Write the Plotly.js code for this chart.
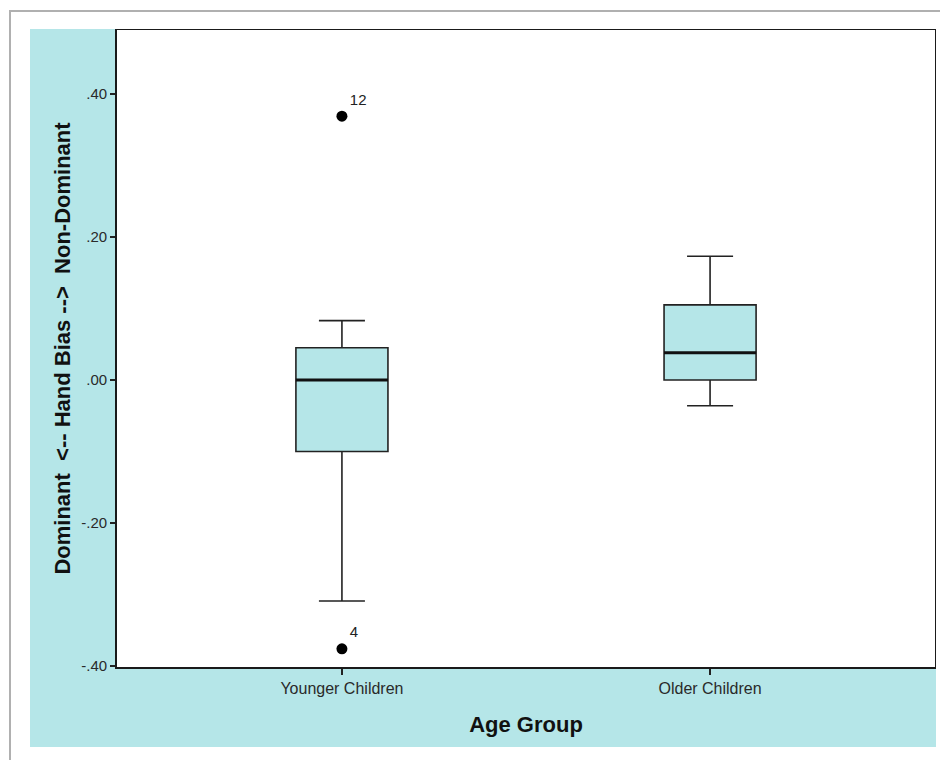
<!DOCTYPE html>
<html>
<head>
<meta charset="utf-8">
<script src="https://cdn.plot.ly/plotly-3.0.1.min.js"></script>
<style>
  html, body { margin: 0; padding: 0; background: #ffffff; width: 940px; height: 760px; overflow: hidden; }
  #frame { position: absolute; left: 9px; top: 10px; width: 940px; height: 760px;
           border-left: 2px solid #b0b0b0; border-top: 2px solid #b0b0b0; box-sizing: border-box; }
  #chart { position: absolute; left: 30px; top: 29px; width: 906px; height: 718px; }
</style>
</head>
<body>
<div id="frame"></div>
<div id="chart"></div>
<script>
// Data
var categories = ['Younger Children', 'Older Children'];
var q1 = [-0.100, 0.000];
var median = [0.000, 0.038];
var q3 = [0.045, 0.105];
var lowerWhisker = [-0.309, -0.036];
var upperWhisker = [0.083, 0.173];

var outlierGroup = ['Younger Children', 'Younger Children'];
var outlierValues = [0.369, -0.376];
var outlierCases = ['12', '4'];

var yTickVals = [-0.4, -0.2, 0.0, 0.2, 0.4];
var yTickText = ['-.40', '-.20', '.00', '.20', '.40'];

var teal = '#b5e6e8';
var ink = '#222222';

var boxTrace = {
  type: 'box',
  x: categories,
  q1: q1,
  median: median,
  q3: q3,
  lowerfence: lowerWhisker,
  upperfence: upperWhisker,
  boxpoints: false,
  width: 0.25,
  whiskerwidth: 0.5,
  fillcolor: teal,
  line: { color: ink, width: 1.6 },
  hoverinfo: 'skip',
  showlegend: false
};

// thick median line drawn as a degenerate box at the median values
var medianTrace = {
  type: 'box',
  x: categories,
  q1: median,
  median: median,
  q3: median,
  lowerfence: median,
  upperfence: median,
  boxpoints: false,
  width: 0.25,
  whiskerwidth: 0,
  fillcolor: 'rgba(0,0,0,0)',
  line: { color: '#111111', width: 3 },
  hoverinfo: 'skip',
  showlegend: false
};

var outlierTrace = {
  type: 'scatter',
  mode: 'markers+text',
  x: outlierGroup,
  y: outlierValues,
  text: outlierCases,
  textposition: 'top right',
  textfont: { family: 'Liberation Sans, Arial, sans-serif', size: 15, color: '#222222' },
  marker: { color: '#000000', size: 11 },
  hoverinfo: 'skip',
  showlegend: false
};

var layout = {
  width: 906,
  height: 718,
  margin: { l: 87, r: 1, t: 1, b: 80, pad: 0 },
  paper_bgcolor: teal,
  plot_bgcolor: '#ffffff',
  font: { family: 'Liberation Sans, Arial, sans-serif', color: '#222222' },
  showlegend: false,
  boxmode: 'overlay',
  xaxis: {
    type: 'category',
    range: [-0.611, 1.611],
    showgrid: false,
    zeroline: false,
    showline: true,
    mirror: true,
    linecolor: '#1a1a1a',
    linewidth: 1.8,
    ticks: 'outside',
    ticklen: 6,
    tickwidth: 1.5,
    tickcolor: '#222222',
    tickfont: { size: 16, color: '#2a2a2a' },
    title: { text: 'Age Group', font: { size: 22, color: '#111111', family: 'Liberation Sans, Arial, sans-serif', weight: 'bold' }, standoff: 20 }
  },
  yaxis: {
    range: [-0.4014, 0.4895],
    tickvals: yTickVals,
    ticktext: yTickText,
    showgrid: false,
    zeroline: false,
    showline: true,
    mirror: true,
    linecolor: '#1a1a1a',
    linewidth: 1.8,
    ticks: 'outside',
    ticklen: 5,
    tickwidth: 1.5,
    tickcolor: '#222222',
    tickfont: { size: 15, color: '#2a2a2a' },
    title: { text: 'Dominant  &lt;-- Hand Bias --&gt;  Non-Dominant', font: { size: 22, color: '#111111', family: 'Liberation Sans, Arial, sans-serif', weight: 'bold' }, standoff: 5 }
  }
};

Plotly.newPlot('chart', [boxTrace, medianTrace, outlierTrace], layout, { displayModeBar: false, staticPlot: true });
</script>
</body>
</html>
